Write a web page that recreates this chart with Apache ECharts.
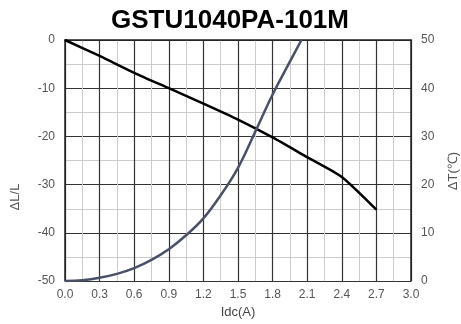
<!DOCTYPE html>
<html><head><meta charset="utf-8">
<script src="https://cdn.jsdelivr.net/npm/echarts@6/dist/echarts.min.js"></script>
<style>html,body{margin:0;padding:0;background:#fff}#c{width:461px;height:324px}</style>
</head><body><div id="c"></div>
<script>
var title = 'GSTU1040PA-101M';
var xTicks = [0,0.3,0.6,0.9,1.2,1.5,1.8,2.1,2.4,2.7,3.0];
var inductanceX = [0,0.3,0.6,0.9,1.2,1.5,1.8,2.1,2.4,2.7];
var inductanceY = [0,-3.3,-6.8,-10,-13.2,-16.5,-20.2,-24.3,-28.4,-35.2];
var tempX = [0,0.15,0.3,0.45,0.6,0.75,0.9,1.05,1.2,1.35,1.5,1.65,1.8,1.95,2.05];
var tempY = [0,0.2,0.7,1.5,2.7,4.4,6.6,9.5,13,17.8,23.5,31,38.7,45.5,50];

var chart = echarts.init(document.getElementById('c'));
function pairs(xs, ys){ return xs.map(function(x,i){return [x, ys[i]];}); }
var lab = {color:'#555', fontFamily:'Liberation Sans, Arial', fontSize:12};
chart.setOption({
  animation:false,
  title:{text:title,left:225,top:3,textAlign:'center',textStyle:{fontFamily:'Liberation Sans, Arial',fontWeight:'bold',fontSize:26,color:'#000'}},
  grid:{left:65,right:50,top:40,bottom:41},
  xAxis:{type:'value',min:0,max:3,interval:0.3,
    name:'Idc(A)',nameLocation:'middle',nameGap:24,
    nameTextStyle:{color:'#444',fontFamily:'Liberation Sans, Arial',fontSize:13},
    axisLine:{lineStyle:{color:'#222',width:1.5}},axisTick:{show:false},
    axisLabel:Object.assign({margin:8,formatter:function(v){return v.toFixed(1);}},lab),
    splitLine:{show:true,lineStyle:{color:'#333',width:1.2}},
    minorTick:{show:false,splitNumber:2},
    minorSplitLine:{show:true,lineStyle:{color:'#ccc',width:1}}},
  yAxis:[
    {type:'value',min:-50,max:0,interval:10,position:'left',
     axisLine:{show:true,lineStyle:{color:'#222',width:1.5}},axisTick:{show:false},
     axisLabel:Object.assign({margin:10},lab),
     splitLine:{show:true,lineStyle:{color:'#333',width:1.2}},
     minorTick:{show:false,splitNumber:2},
     minorSplitLine:{show:true,lineStyle:{color:'#ccc',width:1}}},
    {type:'value',min:0,max:50,interval:10,position:'right',
     axisLine:{show:true,lineStyle:{color:'#222',width:1.5}},axisTick:{show:false},
     axisLabel:Object.assign({margin:10},lab),
     splitLine:{show:false}}
  ],
  graphic:[
    {type:'text',x:15,y:197,rotation:Math.PI/2,style:{text:'ΔL/L',fill:'#555',font:'13px Liberation Sans, Arial',align:'center',verticalAlign:'middle'}},
    {type:'text',x:453,y:171,rotation:Math.PI/2,style:{text:'ΔT(℃)',fill:'#555',font:'13px Liberation Sans, Arial',align:'center',verticalAlign:'middle'}}
  ],
  series:[
    {type:'line',yAxisIndex:0,data:pairs(inductanceX,inductanceY),showSymbol:false,smooth:0.2,
     lineStyle:{color:'#000',width:2.5}},
    {type:'line',yAxisIndex:1,data:pairs(tempX,tempY),showSymbol:false,smooth:0.4,
     lineStyle:{color:'#4a5068',width:2.5}}
  ]
});
</script></body></html>
